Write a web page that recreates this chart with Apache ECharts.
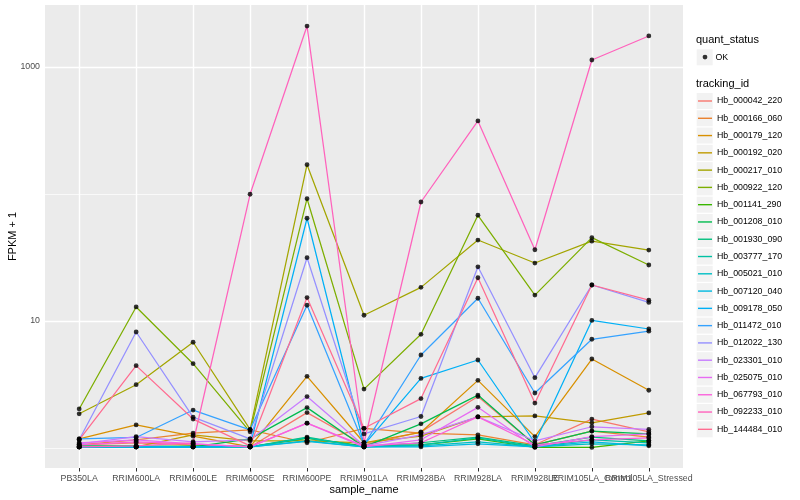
<!DOCTYPE html>
<html><head><meta charset="utf-8">
<script src="https://cdn.jsdelivr.net/npm/echarts@6/dist/echarts.min.js"></script>
<style>html,body{margin:0;padding:0;background:#fff}#c{width:800px;height:500px}</style>
</head><body><div id="c"></div>
<script>
// ---- data ----
const categories = ['PB350LA','RRIM600LA','RRIM600LE','RRIM600SE','RRIM600PE','RRIM901LA','RRIM928BA','RRIM928LA','RRIM928LE','RRIM105LA_Control','RRIM105LA_Stressed'];
const trackingIds = ['Hb_000042_220','Hb_000166_060','Hb_000179_120','Hb_000192_020','Hb_000217_010','Hb_000922_120','Hb_001141_290','Hb_001208_010','Hb_001930_090','Hb_003777_170','Hb_005021_010','Hb_007120_040','Hb_009178_050','Hb_011472_010','Hb_012022_130','Hb_023301_010','Hb_025075_010','Hb_067793_010','Hb_092233_010','Hb_144484_010'];
const colors = ['#F8766D','#EA8331','#D89000','#C09B00','#A3A500','#7CAE00','#39B600','#00BB4E','#00BF7D','#00C1A3','#00BFC4','#00BAE0','#00B0F6','#35A2FF','#9590FF','#C77CFF','#E76BF3','#FA62DB','#FF62BC','#FF6C91'];
// FPKM + 1 per sample (order of categories)
const s000042 = [1.06, 1.10, 1.06, 1.02, 1.90, 1.06, 1.34, 2.54, 1.06, 1.69, 1.34];
const s000166 = [1.06, 1.16, 1.31, 1.39, 1.10, 1.43, 1.31, 1.27, 1.06, 1.36, 1.22];
const s000179 = [1.18, 1.52, 1.24, 1.02, 3.67, 1.10, 1.33, 3.41, 1.23, 5.02, 2.85];
const s000192 = [1.02, 1.02, 1.27, 1.14, 1.14, 1.10, 1.24, 1.76, 1.79, 1.58, 1.89];
const s000217 = [1.86, 3.15, 6.80, 1.40, 170, 11.1, 18.4, 43.4, 28.6, 42.5, 36.2];
const s000922 = [2.03, 12.9, 4.61, 1.34, 91.8, 2.91, 7.86, 68.0, 16.0, 45.3, 27.6];
const s001141 = [1.02, 1.02, 1.04, 1.02, 1.19, 1.04, 1.06, 1.18, 1.01, 1.01, 1.14];
const s001208 = [1.04, 1.04, 1.02, 1.18, 2.08, 1.02, 1.55, 2.61, 1.06, 1.36, 1.29];
const s001930 = [1.02, 1.02, 1.02, 1.02, 1.22, 1.02, 1.10, 1.22, 1.04, 1.22, 1.14];
const s003777 = [1.02, 1.02, 1.02, 1.02, 1.20, 1.02, 1.06, 1.20, 1.02, 1.16, 1.10];
const s005021 = [1.02, 1.02, 1.02, 1.02, 1.14, 1.02, 1.04, 1.12, 1.02, 1.08, 1.06];
const s007120 = [1.02, 1.02, 1.02, 1.02, 1.13, 1.02, 1.02, 1.08, 1.02, 1.12, 1.04];
const s009178 = [1.02, 1.02, 1.02, 1.04, 64.4, 1.06, 3.53, 4.93, 1.10, 10.1, 8.65];
const s011472 = [1.18, 1.21, 1.99, 1.39, 13.3, 1.06, 5.40, 15.1, 2.71, 7.18, 8.31];
const s012022 = [1.16, 8.19, 1.75, 1.18, 31.5, 1.29, 1.77, 26.7, 3.58, 19.2, 14.0];
const s023301 = [1.08, 1.23, 1.12, 1.16, 2.54, 1.04, 1.27, 1.76, 1.14, 1.47, 1.40];
const s025075 = [1.10, 1.16, 1.08, 1.02, 1.57, 1.02, 1.16, 2.09, 1.02, 1.23, 1.29];
const s067793 = [1.06, 1.12, 1.08, 1.02, 1.57, 1.04, 1.10, 1.76, 1.06, 1.16, 1.20];
const s092233 = [1.02, 1.04, 1.10, 99.5, 2100, 1.10, 86.5, 376, 36.4, 1135, 1755];
const s144484 = [1.16, 4.45, 1.69, 1.04, 15.3, 1.43, 2.45, 21.9, 2.26, 19.2, 14.6];
const seriesValues = [s000042,s000166,s000179,s000192,s000217,s000922,s001141,s001208,s001930,s003777,s005021,s007120,s009178,s011472,s012022,s023301,s025075,s067793,s092233,s144484];
const yTickLabels = [10, 1000];
const yMinorBreaks = [1, 100];
const quantStatus = ['OK'];

// ---- chart ----
const FONT = '"Liberation Sans", Arial, Helvetica, sans-serif';
const xIdx = categories.map((c, i) => i);
const xEven = xIdx.filter(i => i % 2 === 0);
const xOdd = xIdx.filter(i => i % 2 === 1);
const chart = echarts.init(document.getElementById('c'), null, {renderer: 'canvas'});

const series = trackingIds.map((id, k) => ({
  name: id, type: 'line', color: colors[k],
  data: seriesValues[k].map((v, i) => [i, v]),
  symbol: 'none', lineStyle: {color: colors[k], width: 1.25}, itemStyle: {color: colors[k]},
  z: 3, silent: true, animation: false
}));
const pts = [];
seriesValues.forEach(arr => arr.forEach((v, i) => pts.push([i, v])));
series.push({
  name: quantStatus[0], type: 'scatter', data: pts, symbol: 'circle', symbolSize: 4.8,
  itemStyle: {color: '#000'}, z: 4, silent: true, animation: false
});
// panel grid lines (ggplot style): major + minor
series.push({
  type: 'line', data: [], silent: true, animation: false, z: 1,
  markLine: {
    silent: true, symbol: 'none', label: {show: false}, animation: false, z: 1,
    emphasis: {disabled: true},
    data: [
      ...yMinorBreaks.map(v => ({yAxis: v, lineStyle: {color: '#fff', width: 0.7, type: 'solid'}})),
      ...yTickLabels.map(v => ({yAxis: v, lineStyle: {color: '#fff', width: 1.4, type: 'solid'}})),
      ...xIdx.map(v => ({xAxis: v, lineStyle: {color: '#fff', width: 1.4, type: 'solid'}}))
    ]
  }
});

const keyTop = 92.36, keyPitch = 17.28;
const graphics = [];
graphics.push({type: 'rect', shape: {x: 696.7, y: 49.3, width: 16, height: 16}, style: {fill: '#F2F2F2'}, z: -1, silent: true});
trackingIds.forEach((id, k) => {
  graphics.push({type: 'rect', shape: {x: 696.7, y: keyTop + k * keyPitch + 0.64, width: 16, height: 16}, style: {fill: '#F2F2F2'}, z: -1, silent: true});
});

const xLabelStyle = {formatter: v => categories[Math.round(v)], color: '#4D4D4D', fontSize: 8.8, margin: 6, fontFamily: FONT, showMinLabel: true, showMaxLabel: true, hideOverlap: false};

chart.setOption({
  animation: false,
  backgroundColor: '#fff',
  textStyle: {fontFamily: FONT},
  grid: {left: 45, right: 117, top: 5, bottom: 32, show: true, backgroundColor: '#EBEBEB', borderWidth: 0, containLabel: false, outerBoundsMode: 'none'},
  xAxis: [{
    type: 'value', min: -0.6, max: 10.6, position: 'bottom',
    splitLine: {show: false}, axisLine: {show: false},
    axisTick: {show: true, customValues: xIdx, length: 3.5, lineStyle: {color: '#333333', width: 1}},
    axisLabel: Object.assign({customValues: xEven}, xLabelStyle),
    name: 'sample_name', nameLocation: 'middle', nameGap: 16, nameMoveOverlap: false,
    nameTextStyle: {fontSize: 11, color: '#000', fontFamily: FONT}
  }, {
    type: 'value', min: -0.6, max: 10.6, position: 'bottom',
    splitLine: {show: false}, axisLine: {show: false}, axisTick: {show: false},
    axisLabel: Object.assign({customValues: xOdd}, xLabelStyle)
  }],
  yAxis: {
    type: 'log', logBase: 10, min: 0.696, max: 3076,
    splitLine: {show: false}, axisLine: {show: false}, minorTick: {show: false},
    axisTick: {show: true, customValues: yTickLabels, length: 3.5, lineStyle: {color: '#333333', width: 1}},
    axisLabel: {customValues: yTickLabels, formatter: v => String(Math.round(v)), color: '#4D4D4D', fontSize: 8.8, margin: 5, fontFamily: FONT, showMinLabel: true, showMaxLabel: true},
    name: 'FPKM + 1', nameLocation: 'middle', nameGap: 26.5, nameMoveOverlap: false,
    nameTextStyle: {fontSize: 11, color: '#000', fontFamily: FONT}
  },
  title: [
    {text: 'quant_status', left: 696, top: 33.5, padding: 0, textStyle: {fontSize: 11, fontWeight: 'normal', color: '#000', lineHeight: 13, fontFamily: FONT}},
    {text: 'tracking_id', left: 696, top: 77.8, padding: 0, textStyle: {fontSize: 11, fontWeight: 'normal', color: '#000', lineHeight: 13, fontFamily: FONT}}
  ],
  legend: [
    {
      data: quantStatus, orient: 'vertical', left: 702.6, top: 49.1, padding: 0,
      icon: 'circle', itemWidth: 4.8, itemHeight: 4.8, selectedMode: false,
      textStyle: {fontSize: 8.8, color: '#000', lineHeight: 16, padding: [0, 0, 0, 3], fontFamily: FONT}
    },
    {
      data: trackingIds, orient: 'vertical', left: 698, top: keyTop, padding: 0, itemGap: 0,
      icon: 'path://M0,0 L14,0 L14,1.4 L0,1.4 Z', itemWidth: 14, itemHeight: keyPitch, selectedMode: false,
      textStyle: {fontSize: 8.8, color: '#000', lineHeight: keyPitch, fontFamily: FONT}
    }
  ],
  graphic: graphics,
  series: series
});
</script>
</body></html>
